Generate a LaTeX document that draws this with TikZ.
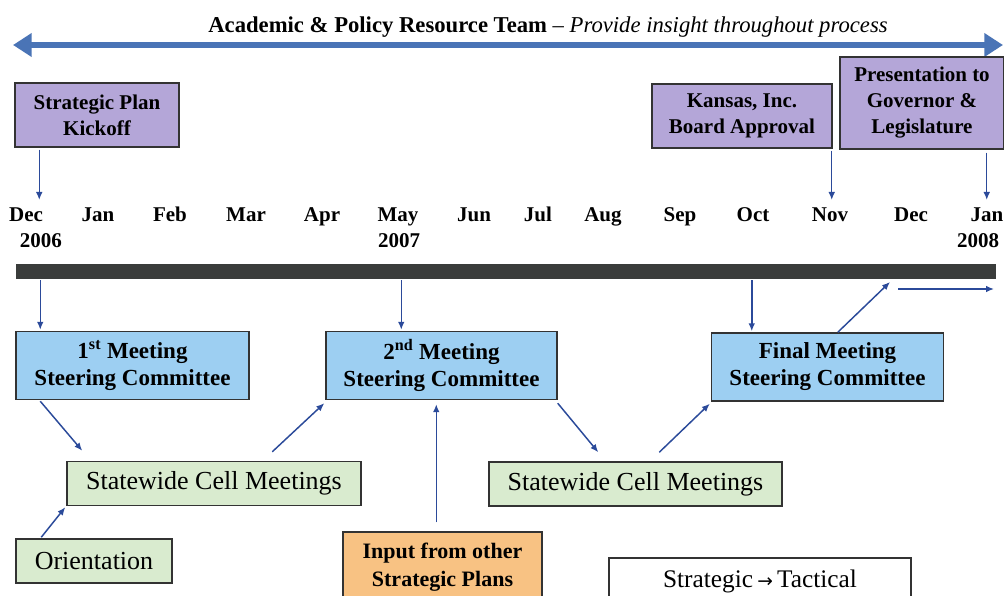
\documentclass[tikz,border=0pt]{standalone}
\usepackage{fontspec}
\setmainfont{Liberation Serif}
\newfontfamily\symfont{DejaVu Sans}
\usetikzlibrary{arrows.meta,calc}
\definecolor{purplefill}{HTML}{B4A6D8}
\definecolor{bluefill}{HTML}{9DCFF2}
\definecolor{greenfill}{HTML}{D9EBCF}
\definecolor{orangefill}{HTML}{F8C283}
\definecolor{arrowblue}{HTML}{2B4A9A}
\definecolor{bigblue}{HTML}{4A74B6}
\definecolor{bardark}{HTML}{3A3C3B}
\definecolor{boxline}{HTML}{333333}
\begin{document}
\begin{tikzpicture}[x=0.75pt,y=-0.75pt,
  sz/.style 2 args={minimum width=#1*0.75pt,minimum height=#2*0.75pt},
  box/.style={draw=boxline,line width=1.1pt,inner sep=0pt,align=center},
  purplebox/.style={box,fill=purplefill,font=\bfseries\fontsize{15.75}{19.5}\selectfont},
  bluebox/.style={box,fill=bluefill,font=\bfseries\fontsize{17.25}{20.25}\selectfont},
  greenbox/.style={box,fill=greenfill,font=\fontsize{19.5}{23}\selectfont},
  orangebox/.style={box,fill=orangefill,font=\bfseries\fontsize{16.5}{21}\selectfont},
  whitebox/.style={box,fill=white,font=\fontsize{19}{23}\selectfont},
  month/.style={font=\bfseries\fontsize{15.75}{18}\selectfont,anchor=base,inner sep=0pt},
  arr/.style={draw=arrowblue,line width=1.1pt,-{Latex[length=6pt,width=5pt]}},
]
\clip (0,0) rectangle (1004,596);
\fill[white] (0,0) rectangle (1004,596);

% title and top double arrow
\node[anchor=base,inner sep=0pt,font=\fontsize{17}{20}\selectfont] (title) at (548,32)
  {\textbf{Academic \& Policy Resource Team} -- \textit{Provide insight throughout process}};
\coordinate (teamL) at (13,45);
\coordinate (teamR) at (1003,45);
\draw[bigblue,line width=4.5pt,{Triangle[length=14pt,width=17pt]}-{Triangle[length=14pt,width=17pt]}] (teamL) -- (teamR);

% milestone boxes
\node[purplebox,sz={164}{64}] (kick) at (97,115) {Strategic Plan\\Kickoff};
\node[purplebox,sz={180}{64}] (kansas) at (742,116) {Kansas, Inc.\\Board Approval};
\node[purplebox,sz={164}{92}] (pres) at (922,103) {Presentation to\\Governor \&\\Legislature};

% months
\node[month] (mdec1) at (26,221) {Dec};
\node[month] (mjan1) at (98,221) {Jan};
\node[month] (mfeb) at (170,221) {Feb};
\node[month] (mmar) at (246,221) {Mar};
\node[month] (mapr) at (322,221) {Apr};
\node[month] (mmay) at (398,221) {May};
\node[month] (mjun) at (474,221) {Jun};
\node[month] (mjul) at (538,221) {Jul};
\node[month] (maug) at (603,221) {Aug};
\node[month] (msep) at (680,221) {Sep};
\node[month] (moct) at (753,221) {Oct};
\node[month] (mnov) at (830,221) {Nov};
\node[month] (mdec2) at (911,221) {Dec};
\node[month] (mjan2) at (987,221) {Jan};
\node[month] (y2006) at (41,247) {2006};
\node[month] (y2007) at (399,247) {2007};
\node[month] (y2008) at (978,247) {2008};

% timeline bar
\node[fill=bardark,inner sep=0pt,sz={980}{15}] (bar) at (505.5,271.5) {};

% steering committee meetings
\node[bluebox,sz={233}{68}] (m1) at (132.5,365.5) {1\textsuperscript{st} Meeting\\Steering Committee};
\node[bluebox,sz={231}{68}] (m2) at (441.5,365.5) {2\textsuperscript{nd} Meeting\\Steering Committee};
\node[bluebox,sz={232}{68}] (mf) at (827.5,367) {Final Meeting\\Steering Committee};

% cell meetings etc.
\node[greenbox,sz={294}{44}] (sc1) at (214,483.5) {Statewide Cell Meetings};
\node[greenbox,sz={293}{44}] (sc2) at (635.5,484) {Statewide Cell Meetings};
\node[greenbox,sz={156}{44}] (orient) at (94,561) {Orientation};
\node[orangebox,sz={199}{70}] (input) at (442.5,567) {Input from other\\Strategic Plans};
\node[whitebox,sz={302}{46}] (tact) at (760,581) {Strategic\,{\symfont\fontsize{14}{14}\selectfont →}\,Tactical};

% connectors: milestones to months
\draw[arr] ($(kick.south west)+(25,2)$) -- ($(kick.south west |- mdec1.north)+(25,-7)$);
\draw[arr] ($(kansas.south east)+(-1,2)$) -- ($(kansas.south east |- mnov.north)+(-1,-7)$);
\draw[arr] ($(pres.south east)+(-18,3)$) -- ($(pres.south east |- mjan2.north)+(-18,-7)$);

% connectors: bar to meetings
\draw[arr] ($(m1.north west |- bar.south)+(25,1)$) -- ($(m1.north west)+(25,-1)$);
\draw[arr] ($(m2.north west |- bar.south)+(76,1)$) -- ($(m2.north west)+(76,-1)$);
\draw[arr] ($(mf.north west |- bar.south)+(41,1)$) -- ($(mf.north west)+(41,-1)$);

% process flow
\draw[arr] ($(m1.south west)+(25,1)$) -- ($(sc1.north west)+(16,-10)$);
\draw[arr] ($(orient.north west)+(26,-1)$) -- ($(sc1.south west)+(-1,1)$);
\draw[arr] ($(sc1.north west)+(206,-9)$) -- ($(m2.south west)+(-1,3)$);
\draw[arr] ($(input.north west)+(94,-9)$) -- ($(m2.south west)+(111,4)$);
\draw[arr] ($(m2.south east)+(0,3)$) -- ($(sc2.north west)+(110,-9)$);
\draw[arr] ($(sc2.north west)+(171,-9)$) -- ($(mf.south west)+(-1,2)$);
\coordinate (upto) at (890,282);
\draw[arr] ($(mf.north west)+(127,0)$) -- (upto);
\coordinate (nxtA) at (898,289);
\coordinate (nxtB) at (994,289);
\draw[arr] (nxtA) -- (nxtB);
\end{tikzpicture}
\end{document}
